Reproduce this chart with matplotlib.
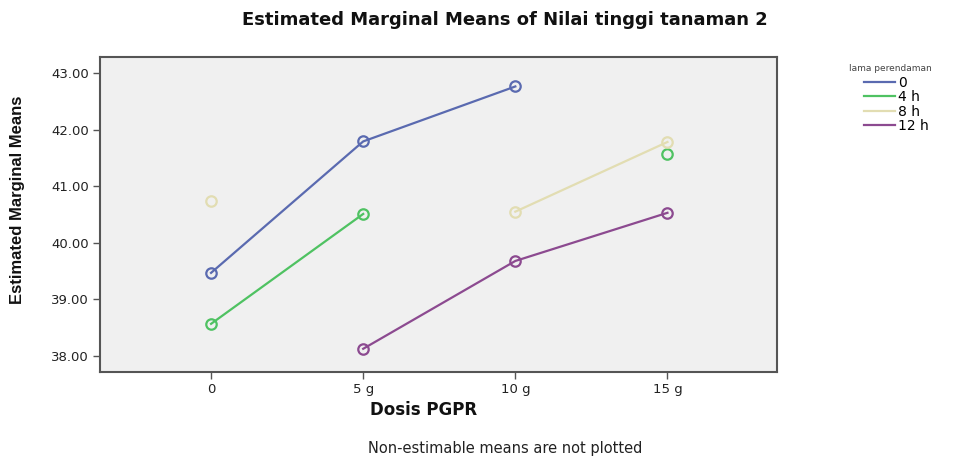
import numpy as np
import matplotlib
matplotlib.use("Agg")
import matplotlib.pyplot as plt
from matplotlib.lines import Line2D

plt.rcParams['font.family'] = ['DejaVu Sans']

doses = ["0", "5 g", "10 g", "15 g"]
series_names = ["0", "4 h", "8 h", "12 h"]
nan = np.nan
means_0 = [39.47, 41.79, 42.76, nan]
means_4h = [38.57, 40.51, nan, 41.57]
means_8h = [40.74, nan, 40.55, 41.78]
means_12h = [nan, 38.13, 39.68, 40.53]
colors = ["#5a6ab0", "#4fc262", "#e2ddb2", "#8c4a90"]
yticks = [38.0, 39.0, 40.0, 41.0, 42.0, 43.0]

fig = plt.figure(figsize=(9.59, 4.61), dpi=100)
ax = fig.add_axes([100/959, 1-372/461, (777-100)/959, (372-57)/461])
ax.set_facecolor("#f0f0f0")

x = np.arange(len(doses))
for vals, c in zip([means_0, means_4h, means_8h, means_12h], colors):
    ax.plot(x, vals, color=c, lw=1.6, marker='o', ms=7.5, mfc='none', mec=c, mew=1.6)

ax.set_xlim(-0.73, 3.72)
ax.set_ylim(37.72, 43.28)
ax.set_xticks(x)
ax.set_xticklabels(doses, fontsize=9.5, color="#222222")
ax.set_yticks(yticks)
ax.set_yticklabels([f"{v:.2f}" for v in yticks], fontsize=9.5, color="#222222")
ax.tick_params(direction='out', length=5, width=1, color="#555555", pad=3)
for s in ax.spines.values():
    s.set_color("#555555")
    s.set_linewidth(1.5)

fig.text(505/959, 1-20/461, "Estimated Marginal Means of Nilai tinggi tanaman 2",
         ha='center', va='center', fontsize=13, fontweight='bold', color="#111111")
ax.set_xlabel("Dosis PGPR", fontsize=12, fontweight='bold', color="#111111")
ax.xaxis.set_label_coords((424-100)/677, -(401-372)/315)
fig.text(18/959, 1-200/461, "Estimated Marginal Means", rotation=90, ha='center', va='center',
         fontsize=12, fontweight='bold', family=['Liberation Sans Narrow', 'Liberation Sans', 'DejaVu Sans'],
         color="#111111")
fig.text(505/959, 1-448/461, "Non-estimable means are not plotted", ha='center', va='center',
         fontsize=10.5, color="#222222")

fig.text(849/959, 1-68/461, "lama perendaman", ha='left', va='center', fontsize=6.5, color="#444444")
handles = [Line2D([0], [0], color=c, lw=1.6) for c in colors]
leg = fig.legend(handles, series_names, loc='upper left', bbox_to_anchor=(864/959, 1-76/461),
                 frameon=False, fontsize=10, handlelength=2.2, handletextpad=0.25,
                 labelspacing=0.02, borderpad=0.0, borderaxespad=0.0)

fig.savefig("out.png", dpi=100)
